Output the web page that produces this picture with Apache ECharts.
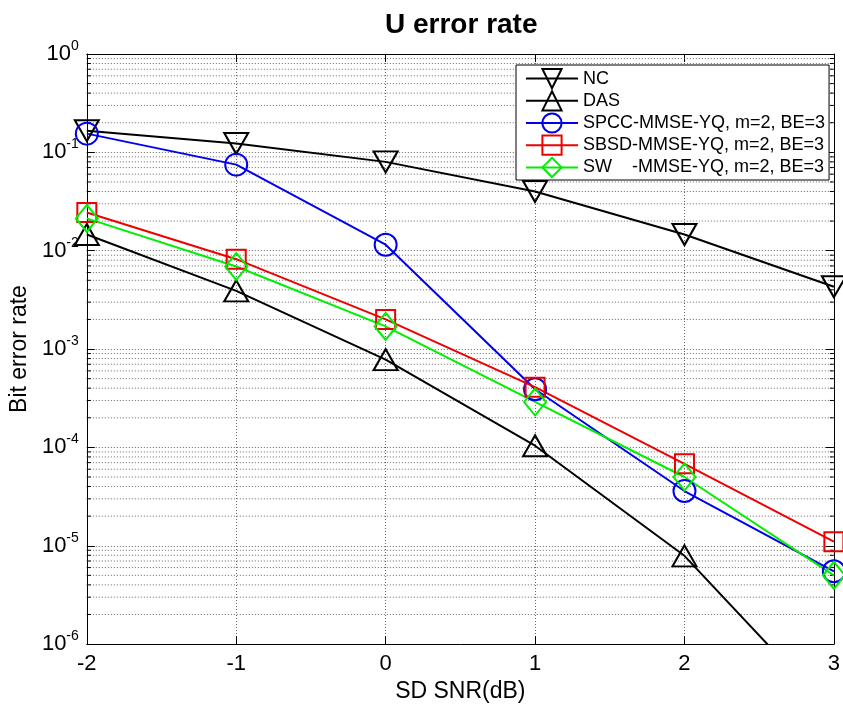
<!DOCTYPE html>
<html>
<head>
<meta charset="utf-8">
<title>U error rate</title>
<script src="https://cdn.jsdelivr.net/npm/echarts@6/dist/echarts.min.js"></script>
<style>
  html, body { margin: 0; padding: 0; background: #fff; }
  #chart { width: 843px; height: 708px; }
</style>
</head>
<body>
<div id="chart"></div>
<script>
// SNR points (dB)
const snrValues = [-2, -1, 0, 1, 2, 3];

// Bit error rate per scheme
const ncBER   = [0.166, 0.123, 0.080, 0.040, 0.0146, 0.0043];
const dasBER  = [0.0146, 0.0039, 7.8e-4, 1.04e-4, 7.9e-6, 1.9e-7];
const spccBER = [0.155, 0.075, 0.0115, 3.9e-4, 3.6e-5, 5.5e-6];
const sbsdBER = [0.0245, 0.0082, 0.0020, 4.1e-4, 6.8e-5, 1.1e-5];
const swBER   = [0.0213, 0.0069, 0.0017, 2.9e-4, 5.0e-5, 5.0e-6];

const seriesNames = [
  'NC',
  'DAS',
  'SPCC-MMSE-YQ, m=2, BE=3',
  'SBSD-MMSE-YQ, m=2, BE=3',
  'SW    -MMSE-YQ, m=2, BE=3'
];

// Decade range of the log axis (exponents)
const yMinExp = -6;
const yMaxExp = 0;

const FONT = "'Liberation Sans', Arial, sans-serif";
const X_MIN = -2, X_MAX = 3;
const GRID_COLOR = '#666';

// Minor log grid positions: 2..9 within every decade
const minorValues = [];
for (let e = yMinExp; e < yMaxExp; e++) {
  for (let m = 2; m <= 9; m++) minorValues.push(m * Math.pow(10, e));
}

function pairs(ys) {
  return snrValues.map((x, i) => [x, ys[i]]);
}

function lineSeries(name, ys, color, symbol, size, rotate, clip) {
  return {
    name: name,
    type: 'line',
    data: pairs(ys),
    symbol: symbol,
    symbolSize: size,
    symbolRotate: rotate || 0,
    showAllSymbol: true,
    clip: clip,
    z: 5,
    lineStyle: { color: color, width: 2 },
    itemStyle: { color: 'rgba(0,0,0,0)', borderColor: color, borderWidth: 2 },
    emphasis: { disabled: true }
  };
}

const dottedGrid = { show: true, lineStyle: { color: GRID_COLOR, width: 1, type: [1, 2] } };

const chart = echarts.init(document.getElementById('chart'), null, { renderer: 'canvas' });

chart.setOption({
  backgroundColor: '#fff',
  animation: false,
  title: {
    text: 'U error rate',
    left: 380,
    top: 6,
    textStyle: { fontFamily: FONT, fontSize: 28, fontWeight: 'bold', color: '#000' }
  },
  grid: { left: 86, right: 6, top: 54, bottom: 62, containLabel: false, show: false },
  legend: {
    data: seriesNames,
    orient: 'vertical',
    left: 516,
    top: 65,
    itemWidth: 52,
    itemHeight: 24,
    itemGap: 1,
    padding: [3, 4, 2, 9],
    borderColor: '#000',
    borderWidth: 1,
    borderRadius: 0,
    backgroundColor: '#fff',
    selectedMode: false,
    textStyle: { fontFamily: FONT, fontSize: 18, color: '#000' }
  },
  xAxis: [
    {
      type: 'value',
      min: X_MIN, max: X_MAX, interval: 1,
      name: 'SD SNR(dB)',
      nameLocation: 'middle',
      nameGap: 32,
      nameTextStyle: { fontFamily: FONT, fontSize: 23, color: '#000' },
      axisLine: { show: true, onZero: false, lineStyle: { color: '#000', width: 1 } },
      axisTick: { show: true, inside: true, length: 8, lineStyle: { color: '#000' } },
      axisLabel: { fontFamily: FONT, fontSize: 22, color: '#000', margin: 9 },
      splitLine: dottedGrid
    },
    {
      type: 'value',
      position: 'top',
      min: X_MIN, max: X_MAX, interval: 1,
      axisLine: { show: true, onZero: false, lineStyle: { color: '#000', width: 1 } },
      axisTick: { show: true, inside: true, length: 8, lineStyle: { color: '#000' } },
      axisLabel: { show: false },
      splitLine: { show: false }
    }
  ],
  yAxis: [
    {
      type: 'log',
      logBase: 10,
      min: Math.pow(10, yMinExp),
      max: Math.pow(10, yMaxExp),
      interval: 1,
      name: 'Bit error rate',
      nameLocation: 'middle',
      nameGap: 47,
      nameTextStyle: { fontFamily: FONT, fontSize: 23, color: '#000' },
      axisLine: { show: true, onZero: false, lineStyle: { color: '#000', width: 1 } },
      axisTick: { show: true, inside: true, length: 8, lineStyle: { color: '#000' } },
      axisLabel: {
        margin: 8,
        formatter: function (v) {
          const e = Math.round(Math.log10(v));
          return '{b|10}{s|' + e + '}';
        },
        rich: {
          b: { fontFamily: FONT, fontSize: 22, color: '#000', lineHeight: 30 },
          s: { fontFamily: FONT, fontSize: 14, color: '#000', lineHeight: 14, verticalAlign: 'top' }
        }
      },
      splitLine: dottedGrid
    },
    {
      type: 'log',
      logBase: 10,
      position: 'right',
      min: Math.pow(10, yMinExp),
      max: Math.pow(10, yMaxExp),
      interval: 1,
      axisLine: { show: true, onZero: false, lineStyle: { color: '#000', width: 1 } },
      axisTick: { show: true, inside: true, length: 8, lineStyle: { color: '#000' } },
      axisLabel: { show: false },
      splitLine: { show: false }
    }
  ],
  series: [
    {
      // minor grid lines and minor ticks of the log axis
      name: 'minor-grid',
      type: 'custom',
      silent: true,
      z: 1,
      data: minorValues.map(v => [X_MIN, v]),
      encode: { x: 0, y: 1 },
      renderItem: function (params, api) {
        const v = api.value(1);
        const a = api.coord([X_MIN, v]);
        const b = api.coord([X_MAX, v]);
        const tickStyle = { stroke: '#000', lineWidth: 1 };
        return {
          type: 'group',
          children: [
            { type: 'line', shape: { x1: a[0], y1: a[1], x2: b[0], y2: b[1] },
              style: { stroke: GRID_COLOR, lineWidth: 1, lineDash: [1, 2] } },
            { type: 'line', shape: { x1: a[0], y1: a[1], x2: a[0] + 4, y2: a[1] }, style: tickStyle },
            { type: 'line', shape: { x1: b[0] - 4, y1: b[1], x2: b[0], y2: b[1] }, style: tickStyle }
          ]
        };
      }
    },
    lineSeries(seriesNames[0], ncBER, '#000000', 'triangle', [24, 21], 180, false),
    lineSeries(seriesNames[1], dasBER, '#000000', 'triangle', [24, 21], 0, true),
    lineSeries(seriesNames[2], spccBER, '#0000ee', 'circle', 22, 0, false),
    lineSeries(seriesNames[3], sbsdBER, '#ee0000', 'rect', 19, 0, false),
    lineSeries(seriesNames[4], swBER, '#00ee00', 'diamond', [22, 27], 0, false)
  ]
});
</script>
</body>
</html>
